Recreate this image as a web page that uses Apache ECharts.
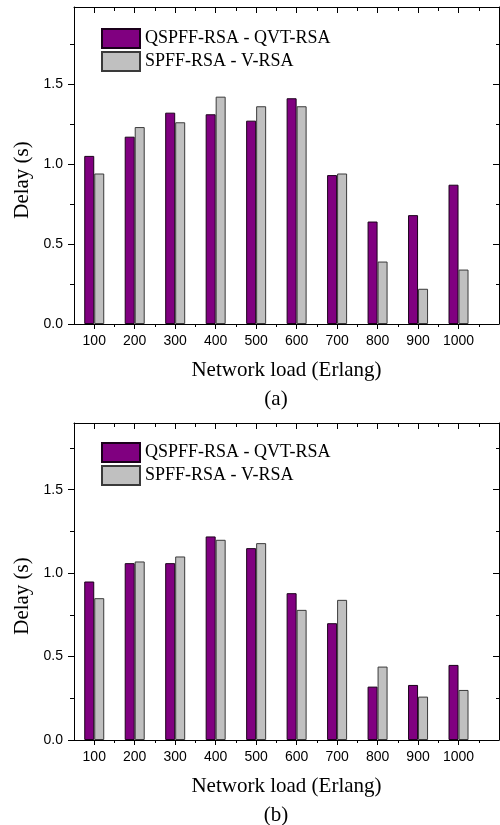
<!DOCTYPE html>
<html>
<head>
<meta charset="utf-8">
<script src="https://cdn.jsdelivr.net/npm/echarts@6/dist/echarts.min.js"></script>
<style>
html,body{margin:0;padding:0;background:#fff;}
#chart{width:500px;height:825px;}
</style>
</head>
<body>
<div id="chart"></div>
<script>
// ---- data ----
const categories = [100, 200, 300, 400, 500, 600, 700, 800, 900, 1000];
const seriesNames = ['QSPFF-RSA - QVT-RSA', 'SPFF-RSA - V-RSA'];
const aQSPFF = [1.05, 1.17, 1.32, 1.31, 1.27, 1.41, 0.93, 0.64, 0.68, 0.87];
const aSPFF  = [0.94, 1.23, 1.26, 1.42, 1.36, 1.36, 0.94, 0.39, 0.22, 0.34];
const bQSPFF = [0.95, 1.06, 1.06, 1.22, 1.15, 0.88, 0.70, 0.32, 0.33, 0.45];
const bSPFF  = [0.85, 1.07, 1.10, 1.20, 1.18, 0.78, 0.84, 0.44, 0.26, 0.30];
const yMajorTicks = [0, 0.5, 1.0, 1.5];
const yMinorTicks = [0.25, 0.75, 1.25, 1.75];
const xMinorTicks = [150, 250, 350, 450, 550, 650, 750, 850, 950, 1050];
const panelLabels = ['(a)', '(b)'];

const SERIF = "'Liberation Serif', 'Times New Roman', serif";
const SANS = "'Liberation Sans', Arial, sans-serif";
const colors = ['#800080', '#C0C0C0'];
const borders = ['#1a001a', '#3a3a3a'];

const panels = [
  { top: 7, height: 317, ymax: 1.98, q: aQSPFF, s: aSPFF, legendTop: 28, labelY: 399 },
  { top: 423, height: 317, ymax: 1.9, q: bQSPFF, s: bSPFF, legendTop: 442, labelY: 815 }
];

const grid = [], xAxis = [], yAxis = [], series = [], legend = [], graphic = [];
const lineStyle = { color: '#000', width: 1 };

panels.forEach((p, gi) => {
  grid.push({ left: 74, width: 425, top: p.top, height: p.height });
  const xBase = { gridIndex: gi, type: 'value', min: 50, max: 1100, splitLine: { show: false } };
  const yBase = { gridIndex: gi, type: 'value', min: 0, max: p.ymax, splitLine: { show: false } };
  // bottom major
  xAxis.push(Object.assign({}, xBase, {
    position: 'bottom',
    axisLine: { show: true, onZero: false, lineStyle },
    axisTick: { show: true, inside: false, length: 5, lineStyle, customValues: categories },
    axisLabel: { show: true, customValues: categories, margin: 10, fontSize: 14, fontFamily: SANS, color: '#000',
      formatter: v => String(v) },
    name: 'Network load (Erlang)', nameLocation: 'middle', nameGap: 36,
    nameTextStyle: { fontFamily: SERIF, fontSize: 21, color: '#000' }
  }));
  // bottom minor
  xAxis.push(Object.assign({}, xBase, {
    position: 'bottom',
    axisLine: { show: false, onZero: false },
    axisTick: { show: true, inside: false, length: 3, lineStyle, customValues: xMinorTicks },
    axisLabel: { show: false }
  }));
  // top major
  xAxis.push(Object.assign({}, xBase, {
    position: 'top',
    axisLine: { show: true, onZero: false, lineStyle },
    axisTick: { show: true, inside: true, length: 6, lineStyle, customValues: categories },
    axisLabel: { show: false }
  }));
  // top minor
  xAxis.push(Object.assign({}, xBase, {
    position: 'top',
    axisLine: { show: false, onZero: false },
    axisTick: { show: true, inside: true, length: 4, lineStyle, customValues: xMinorTicks },
    axisLabel: { show: false }
  }));
  // left major
  yAxis.push(Object.assign({}, yBase, {
    position: 'left',
    axisLine: { show: true, onZero: false, lineStyle },
    axisTick: { show: true, inside: false, length: 6, lineStyle, customValues: yMajorTicks },
    axisLabel: { show: true, customValues: yMajorTicks, margin: 11, fontSize: 14, fontFamily: SANS, color: '#000',
      formatter: v => Number(v).toFixed(1) },
    name: 'Delay (s)', nameLocation: 'middle', nameGap: 31, nameRotate: 90,
    nameTextStyle: { fontFamily: SERIF, fontSize: 21, color: '#000', padding: [0, 29, 0, 0] }
  }));
  // left minor
  yAxis.push(Object.assign({}, yBase, {
    position: 'left',
    axisLine: { show: false, onZero: false },
    axisTick: { show: true, inside: false, length: 4, lineStyle, customValues: yMinorTicks },
    axisLabel: { show: false }
  }));
  // right major
  yAxis.push(Object.assign({}, yBase, {
    position: 'right',
    axisLine: { show: true, onZero: false, lineStyle },
    axisTick: { show: true, inside: true, length: 6, lineStyle, customValues: yMajorTicks },
    axisLabel: { show: false }
  }));
  // right minor
  yAxis.push(Object.assign({}, yBase, {
    position: 'right',
    axisLine: { show: false, onZero: false },
    axisTick: { show: true, inside: true, length: 3, lineStyle, customValues: yMinorTicks },
    axisLabel: { show: false }
  }));

  [p.q, p.s].forEach((vals, si) => {
    series.push({
      name: seriesNames[si],
      type: 'bar',
      xAxisIndex: gi * 4,
      yAxisIndex: gi * 4,
      barWidth: 10,
      barGap: '0%',
      data: categories.map((c, i) => [c, vals[i]]),
      itemStyle: { color: colors[si], borderColor: borders[si], borderWidth: 1 },
      emphasis: { disabled: true }
    });
  });

  legend.push({
    orient: 'vertical', left: 101, top: p.legendTop, padding: 0,
    itemWidth: 38, itemHeight: 19, itemGap: 2,
    icon: 'rect',
    data: seriesNames,
    selectedMode: false,
    textStyle: { fontFamily: SERIF, fontSize: 18, color: '#000' }
  });

  graphic.push({
    type: 'text', x: 276, y: p.labelY,
    style: { text: panelLabels[gi], font: '21px ' + SERIF, fill: '#000', textAlign: 'center', textVerticalAlign: 'middle' }
  });
});

const chart = echarts.init(document.getElementById('chart'), null, { renderer: 'canvas' });
chart.setOption({
  animation: false,
  backgroundColor: '#fff',
  grid, xAxis, yAxis, series, legend, graphic
});
</script>
</body>
</html>
